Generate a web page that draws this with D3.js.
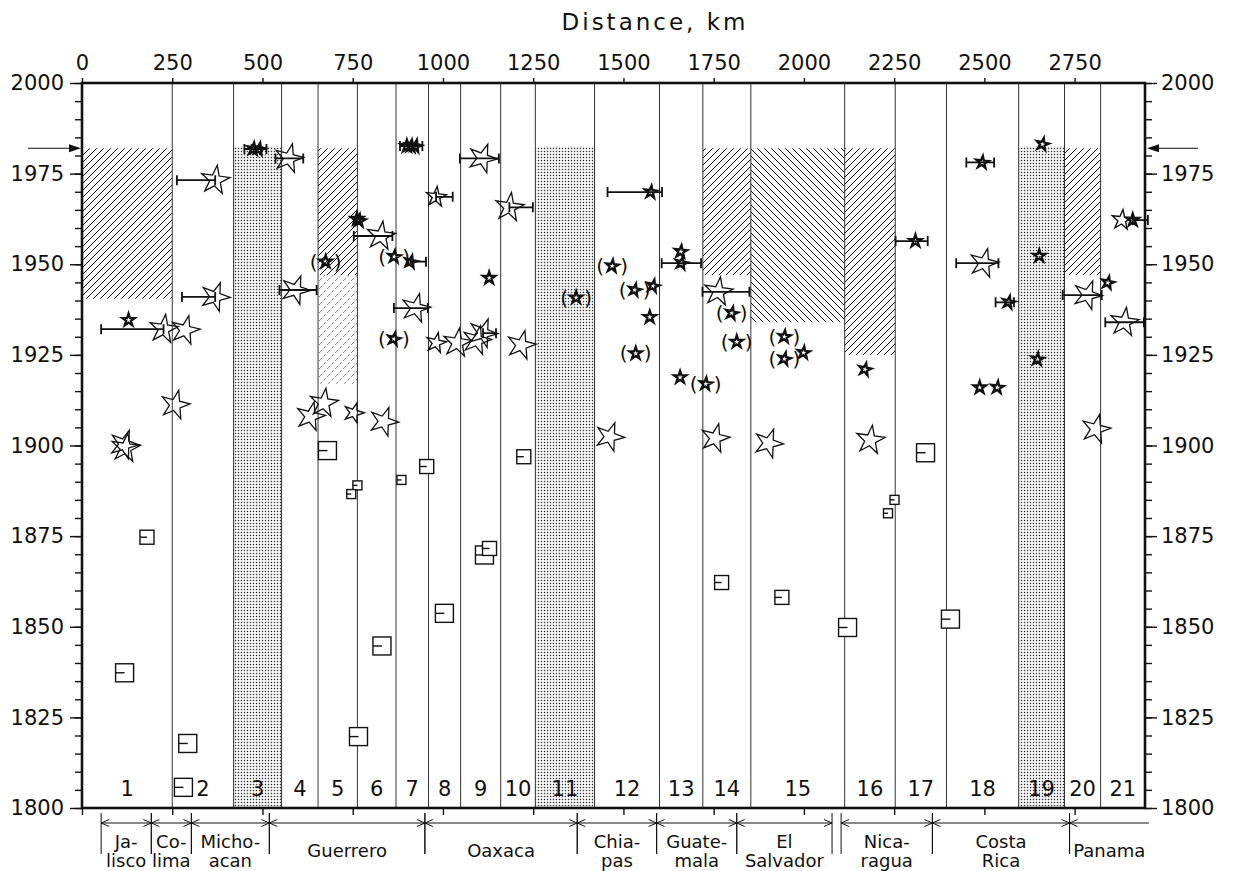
<!DOCTYPE html>
<html>
<head>
<meta charset="utf-8">
<script src="https://cdn.jsdelivr.net/npm/d3@7"></script>
<style>
  body { margin: 0; background: #fff; }
  text { font-family: "DejaVu Sans", sans-serif; fill: #111; }
</style>
</head>
<body>
<svg id="chart" width="1237" height="871"></svg>
<script>
// ---- data ----
var kmTicks = [0, 250, 500, 750, 1000, 1250, 1500, 1750, 2000, 2250, 2500, 2750];
var yearTicks = [1800, 1825, 1850, 1875, 1900, 1925, 1950, 1975, 2000];
var arrowYear = 1982;

// segment boundaries (km) and their numbers
var colBounds = [0, 250, 420, 553, 654, 763, 870, 960, 1049, 1160, 1256, 1420, 1600, 1720, 1853, 2113, 2253, 2395, 2595, 2722, 2822, 2945];
var colNames = ["1","2","3","4","5","6","7","8","9","10","11","12","13","14","15","16","17","18","19","20","21"];

// [segment number, top year, bottom year, fill kind]
var shading = [
  [1, 1982, 1940.5, "hatch"],
  [3, 1982.5, 1800, "dots"],
  [5, 1982, 1947, "hatch"],
  [5, 1947, 1917, "light"],
  [11, 1982.5, 1800, "dots"],
  [14, 1982, 1947, "hatch"],
  [15, 1982, 1934, "back"],
  [16, 1982, 1925, "hatch"],
  [19, 1982.5, 1800, "dots"],
  [20, 1982, 1947, "hatch"]
];

// earthquakes [km, year]
var bigStars = [
  [226, 1932.1], [286, 1931.8], [369, 1941], [369, 1973.2], [258, 1911.2],
  [117, 1900.3], [121, 1899.3],
  [573, 1979.2], [592, 1942.9], [670, 1911.7], [633, 1908], [836, 1906.6],
  [828, 1957.8], [925, 1937.9], [1110, 1979.2], [1040, 1928.3], [1094, 1929],
  [1111, 1931], [1184, 1965.7], [1217, 1927.7], [1462, 1902.4], [1763, 1942.4],
  [1754, 1902], [1902, 1900.6], [2184, 1901.5], [2499, 1950.3], [2786, 1941.5],
  [2888, 1934], [2809, 1904.5]
];
var midStars = [[981, 1968.6], [981, 1928.3], [753, 1909], [2881, 1962.2]];
var smallStars = [
  [129, 1934.6], [475, 1981.8], [490, 1981.8], [900, 1982.6], [912, 1982.6], [924, 1982.6],
  [762, 1962.5], [768, 1962], [911, 1950.7], [1128, 1946.2], [1576, 1969.9], [1582, 1944],
  [1573, 1935.4], [1659, 1953.5], [1661, 1950.3], [1657, 1918.8], [1999, 1925.6],
  [2169, 1921], [2309, 1956.4], [2494, 1978.1], [2567, 1939.5], [2487, 1916], [2536, 1916],
  [2661, 1983.1], [2652, 1952.3], [2647, 1923.8], [2842, 1944.9], [2911, 1962.2]
];
var parenStars = [
  [675, 1950.7], [865, 1952.1], [864, 1929.4], [1369, 1940.8], [1469, 1949.5],
  [1531, 1942.9], [1534, 1925.4], [1728, 1917], [1800, 1936.5], [1814, 1928.6],
  [1946, 1930], [1946, 1923.9]
];
// historical events [km, year]
var bigSquares = [
  [118, 1837.3], [293, 1817.8], [281, 1805.7], [831, 1844.7], [766, 1819.7], [1004, 1853.7],
  [1115, 1869.8], [680, 1898.6], [2121, 1849.8], [2406, 1852.1], [2337, 1898]
];
var midSquares = [[180, 1874.7], [955, 1894.2], [1129, 1871.6], [1224, 1896.9], [1772, 1862.2], [1939, 1858.1]];
var smallSquares = [[763, 1889], [746, 1886.6], [885, 1890.5], [2251, 1885], [2233, 1881.3]];

// location uncertainty [from km, to km, year]
var errorBars = [
  [53, 226, 1932.1], [277, 369, 1941], [263, 369, 1973.2], [450, 511, 1981.8],
  [536, 613, 1979.2], [547, 650, 1942.9], [753, 860, 1957.8], [881, 943, 1982.6],
  [911, 953, 1950.7], [864, 958, 1937.9], [981, 1027, 1968.6], [1047, 1155, 1979.2],
  [1111, 1147, 1931], [1184, 1249, 1965.7], [1456, 1607, 1969.9], [1606, 1715, 1950.3],
  [1719, 1849, 1942.4], [2254, 2343, 1956.4], [2450, 2527, 1978.1], [2422, 2539, 1950.3],
  [2531, 2582, 1939.5], [2717, 2825, 1941.5], [2835, 2942, 1934], [2911, 2953, 1962.2]
];

// countries along the bottom
var regionNames = [["Ja-","lisco"],["Co-","lima"],["Micho-","acan"],["Guerrero"],["Oaxaca"],["Chia-","pas"],["Guate-","mala"],["El","Salvador"],["Nica-","ragua"],["Costa","Rica"],["Panama"]];
var regionBounds = [[53,192],[192,303],[303,519],[519,950],[950,1372],[1372,1592],[1592,1814],[1814,2078],[2103,2356],[2356,2736],[2736,2956]];

// ---- drawing ----
var svg = d3.select("#chart");
var plotL = 82, plotR = 1145, plotT = 83, plotB = 808;

var x = d3.scaleLinear().domain([0, 2945]).range([plotL, plotR]);
var y = d3.scaleLinear().domain([1800, 2000]).range([plotB, plotT]);

var defs = svg.append("defs");
var hatch = defs.append("pattern").attr("id", "hatch").attr("patternUnits", "userSpaceOnUse")
  .attr("width", 7).attr("height", 7);
hatch.append("path").attr("d", "M-1,8 L8,-1 M-1,1 L1,-1 M6,8 L8,6")
  .attr("stroke", "#111").attr("stroke-width", 1);
var back = defs.append("pattern").attr("id", "back").attr("patternUnits", "userSpaceOnUse")
  .attr("width", 7).attr("height", 7);
back.append("path").attr("d", "M-1,-1 L8,8 M6,-1 L8,1 M-1,6 L1,8")
  .attr("stroke", "#111").attr("stroke-width", 1);
var light = defs.append("pattern").attr("id", "light").attr("patternUnits", "userSpaceOnUse")
  .attr("width", 8).attr("height", 8);
light.append("path").attr("d", "M0,8 L8,0").attr("stroke", "#888")
  .attr("stroke-width", 1).attr("stroke-dasharray", "3,2");
var dots = defs.append("pattern").attr("id", "dots").attr("patternUnits", "userSpaceOnUse")
  .attr("width", 3).attr("height", 3);
dots.append("rect").attr("x", 0.8).attr("y", 0.8).attr("width", 1.4).attr("height", 1.4).attr("fill", "#333");

// shaded segments
svg.append("g").selectAll("rect").data(shading).enter().append("rect")
  .attr("x", function(d) { return x(colBounds[d[0] - 1]); })
  .attr("width", function(d) { return x(colBounds[d[0]]) - x(colBounds[d[0] - 1]); })
  .attr("y", function(d) { return y(d[1]); })
  .attr("height", function(d) { return y(d[2]) - y(d[1]); })
  .attr("fill", function(d) { return "url(#" + d[3] + ")"; });

// segment boundaries
svg.append("g").selectAll("line").data(colBounds.slice(1, -1)).enter().append("line")
  .attr("x1", function(d) { return x(d); }).attr("x2", function(d) { return x(d); })
  .attr("y1", plotT).attr("y2", plotB)
  .attr("stroke", "#333").attr("stroke-width", 1);

// segment numbers
svg.append("g").selectAll("text").data(colNames).enter().append("text")
  .attr("x", function(d, i) { return x((colBounds[i] + colBounds[i + 1]) / 2); })
  .attr("y", 796).attr("text-anchor", "middle").attr("font-size", 21)
  .text(function(d) { return d; });

// axes
function styleAxis(g) {
  g.select(".domain").remove();
  g.selectAll("line").attr("stroke", "#111").attr("stroke-width", 1.4);
  g.selectAll("text").attr("font-size", 21).attr("font-family", "DejaVu Sans").attr("fill", "#111");
}
var minorYears = d3.range(1800, 2001, 5);
svg.append("g").attr("transform", "translate(" + plotL + ",0)")
  .call(d3.axisLeft(y).tickValues(minorYears).tickSize(7).tickFormat("")).call(styleAxis);
svg.append("g").attr("transform", "translate(" + plotL + ",0)")
  .call(d3.axisLeft(y).tickValues(yearTicks).tickSize(12).tickPadding(6).tickFormat(d3.format("d"))).call(styleAxis);
svg.append("g").attr("transform", "translate(" + plotR + ",0)")
  .call(d3.axisRight(y).tickValues(minorYears).tickSize(7).tickFormat("")).call(styleAxis);
svg.append("g").attr("transform", "translate(" + plotR + ",0)")
  .call(d3.axisRight(y).tickValues(yearTicks).tickSize(12).tickPadding(4).tickFormat(d3.format("d"))).call(styleAxis);
svg.append("g").attr("transform", "translate(0," + plotT + ")")
  .call(d3.axisTop(x).tickValues(kmTicks).tickSize(5).tickPadding(8).tickFormat(d3.format("d"))).call(styleAxis);
svg.append("g").attr("transform", "translate(0," + plotB + ")")
  .call(d3.axisBottom(x).tickValues(kmTicks).tickSize(7).tickFormat("")).call(styleAxis);

// frame
svg.append("rect").attr("x", plotL).attr("y", plotT).attr("width", plotR - plotL).attr("height", plotB - plotT)
  .attr("fill", "none").attr("stroke", "#111").attr("stroke-width", 2.6);

svg.append("text").attr("x", 655).attr("y", 30).attr("text-anchor", "middle")
  .attr("font-size", 23).attr("letter-spacing", 3).text("Distance, km");

// 1982 arrows
var ay = y(arrowYear);
svg.append("line").attr("x1", 28).attr("x2", plotL - 4).attr("y1", ay).attr("y2", ay).attr("stroke", "#111").attr("stroke-width", 1.2);
svg.append("path").attr("d", "M" + (plotL - 1) + "," + ay + " l-12,-4 l0,8 z").attr("fill", "#111");
svg.append("line").attr("x1", plotR + 4).attr("x2", 1198).attr("y1", ay).attr("y2", ay).attr("stroke", "#111").attr("stroke-width", 1.2);
svg.append("path").attr("d", "M" + (plotR + 2) + "," + ay + " l12,-4 l0,8 z").attr("fill", "#111");

// error bars
var eb = svg.append("g").attr("stroke", "#111").attr("stroke-width", 1.8);
eb.selectAll("path").data(errorBars).enter().append("path")
  .attr("fill", "none")
  .attr("d", function(d) {
    var x1 = x(d[0]), x2 = x(d[1]), yy = y(d[2]);
    return "M" + x1 + "," + yy + "H" + x2 + "M" + x1 + "," + (yy - 5) + "V" + (yy + 5) +
           "M" + x2 + "," + (yy - 5) + "V" + (yy + 5);
  });

// squares
function drawSquares(data, s) {
  var g = svg.append("g").attr("fill", "#fff").attr("stroke", "#111").attr("stroke-width", 1.4);
  g.selectAll("rect").data(data).enter().append("rect")
    .attr("x", function(d) { return x(d[0]) - s / 2; })
    .attr("y", function(d) { return y(d[1]) - s / 2; })
    .attr("width", s).attr("height", s);
  g.selectAll("path").data(data).enter().append("path")
    .attr("d", function(d) { return "M" + (x(d[0]) - s / 2) + "," + y(d[1]) + "h" + (s / 2); });
}
drawSquares(bigSquares, 18);
drawSquares(midSquares, 14);
drawSquares(smallSquares, 9);

// stars
function drawStars(data, r, w, rot) {
  var star = d3.symbol().type(d3.symbolStar).size(r * r / 0.8908);
  svg.append("g").selectAll("path").data(data).enter().append("path")
    .attr("d", star)
    .attr("transform", function(d, i) { return "translate(" + x(d[0]) + "," + y(d[1]) + ") rotate(" + (rot + (i % 3) * 6) + ")"; })
    .attr("fill", "none").attr("stroke", "#111").attr("stroke-width", w)
    .attr("stroke-linejoin", "miter");
}
drawStars(bigStars, 15, 1.3, 8);
drawStars(midStars, 10.5, 1.4, 6);
drawStars(smallStars, 6.5, 2.3, 0);
drawStars(parenStars, 6.5, 2.3, 0);

var pg = svg.append("g");
parenStars.forEach(function(d) {
  pg.append("text").attr("x", x(d[0]) - 12).attr("y", y(d[1])).attr("dy", "0.35em")
    .attr("text-anchor", "middle").attr("font-size", 20).text("(");
  pg.append("text").attr("x", x(d[0]) + 12).attr("y", y(d[1])).attr("dy", "0.35em")
    .attr("text-anchor", "middle").attr("font-size", 20).text(")");
});

// country brackets
var ry = 823;
var rg = svg.append("g").attr("stroke", "#111").attr("fill", "none").attr("stroke-width", 1);
regionBounds.forEach(function(b, i) {
  var x1 = x(b[0]), x2 = x(b[1]);
  var last = i === regionBounds.length - 1;
  rg.append("line").attr("x1", x1).attr("x2", x1).attr("y1", 813).attr("y2", 854);
  if (!last) rg.append("line").attr("x1", x2).attr("x2", x2).attr("y1", 813).attr("y2", 854);
  rg.append("line").attr("x1", x1).attr("x2", x2).attr("y1", ry).attr("y2", ry);
  rg.append("path").attr("d", "M" + (x1 + 8) + "," + (ry - 3.5) + "L" + x1 + "," + ry + "L" + (x1 + 8) + "," + (ry + 3.5));
  if (!last) rg.append("path").attr("d", "M" + (x2 - 8) + "," + (ry - 3.5) + "L" + x2 + "," + ry + "L" + (x2 - 8) + "," + (ry + 3.5));
});
var lg = svg.append("g");
function regionText(cx, yy, s) {
  lg.append("text").attr("x", cx).attr("y", yy)
    .attr("text-anchor", "middle").attr("font-size", 18).text(s);
}
regionNames.forEach(function(n, i) {
  var cx = x((regionBounds[i][0] + regionBounds[i][1]) / 2);
  if (n.length === 1) {
    regionText(cx, 857, n[0]);
  } else {
    regionText(cx, 848, n[0]);
    regionText(cx, 867, n[1]);
  }
});
</script>
</body>
</html>
